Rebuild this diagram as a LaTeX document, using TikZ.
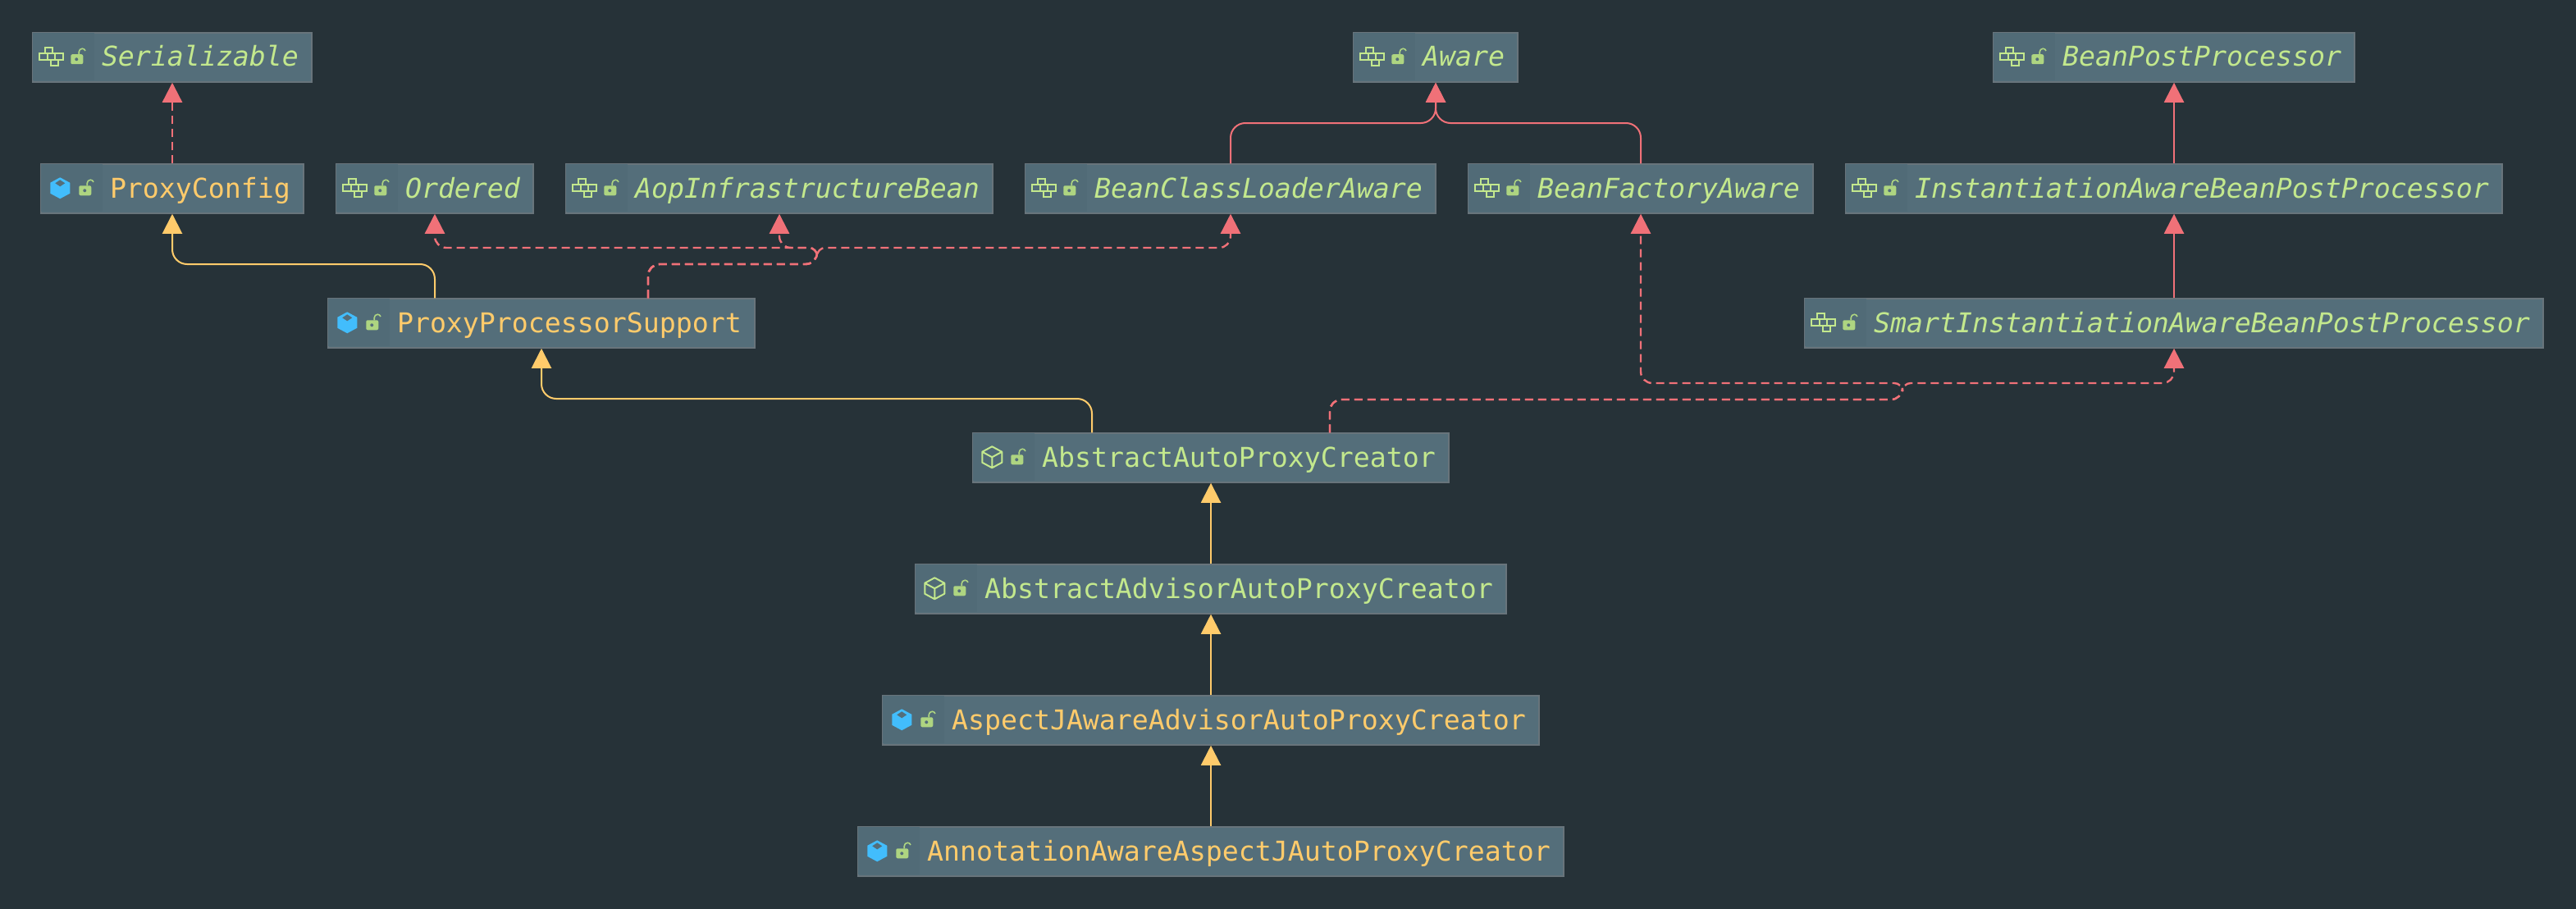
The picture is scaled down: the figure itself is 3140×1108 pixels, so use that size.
\documentclass[tikz,border=0pt]{standalone}
\usepackage{fontspec}
\setmonofont{DejaVu Sans Mono}
\usetikzlibrary{arrows.meta,calc}

\definecolor{bgdark}{HTML}{263238}
\definecolor{boxfill}{HTML}{546E7A}
\definecolor{boxedge}{HTML}{68747B}
\definecolor{boxpart}{HTML}{516B77}
\definecolor{classyellow}{HTML}{FFCB6B}
\definecolor{abstractgreen}{HTML}{C3E88D}
\definecolor{lockgreen}{HTML}{AED581}
\definecolor{cubeblue}{HTML}{42BDFC}
\definecolor{linkred}{HTML}{F07178}

\tikzset{
  classbox/.style={draw=boxedge, fill=boxfill, line width=1.5pt, minimum height=60pt,
    inner xsep=16pt, inner ysep=0pt, text height=22pt, text depth=0pt,
    execute at begin node={\hskip68pt},
    font=\fontsize{33.22}{40}\selectfont\ttfamily},
  concretebox/.style={classbox, text=classyellow},
  abstractbox/.style={classbox, text=abstractgreen},
  ifacebox/.style={classbox, text=abstractgreen, font=\fontsize{33.22}{40}\selectfont\ttfamily\itshape},
  linkbase/.style={line width=2pt, rounded corners=18pt, -{Triangle[length=24pt,width=24pt]}},
  extendline/.style={linkbase, draw=classyellow, fill=none},
  inheritline/.style={linkbase, draw=linkred},
  implline/.style={linkbase, line width=2.4pt, draw=linkred, dash pattern=on 10pt off 6pt},
  lockicon/.pic={
    \fill[boxpart] (1,1) rectangle (76,59);
    \fill[lockgreen, rounded corners=2pt] (47,27) rectangle (62,39);
    \fill[boxfill] (54,33) circle (2pt);
    \draw[lockgreen, line width=1.6pt] (57,27) -- (57,24) arc[start angle=180, end angle=20, radius=4pt];
  },
  ifaceicon/.pic={
    \pic {lockicon};
    \draw[abstractgreen, line width=2.4pt, line join=miter]
      (9,26) rectangle (38,34)
      (19,26) -- (19,34) (28,26) -- (28,34)
      (16,26) -- (16,19) -- (25,19) -- (25,26)
      (23,34) -- (23,41) -- (32,41) -- (32,34);
  },
  solidcube/.pic={
    \pic {lockicon};
    \fill[cubeblue] (24,17) -- (36,23.5) -- (36,36.5) -- (24,43) -- (12,36.5) -- (12,23.5) -- cycle;
    \fill[boxfill] (24,20) -- (30,24) -- (24,28) -- (18,24) -- cycle;
  },
  hollowcube/.pic={
    \pic {lockicon};
    \draw[abstractgreen, line width=2pt, line join=round]
      (24,17) -- (36,23.5) -- (36,36.5) -- (24,43) -- (12,36.5) -- (12,23.5) -- cycle
      (12,23.5) -- (24,30) -- (36,23.5) (24,30) -- (24,43);
  }
}

\begin{document}
\begin{tikzpicture}[x=1pt,y=-1pt]

\fill[bgdark] (0,0) rectangle (3140,1108);
\useasboundingbox (0,0) rectangle (3140,1108);

% top row
\node[ifacebox] (ser) at (210,70) {Serializable};
\node[ifacebox] (aware) at (1750,70) {Aware};
\node[ifacebox] (bpp) at (2650,70) {BeanPostProcessor};

% second row
\node[concretebox] (pc) at (210,230) {ProxyConfig};
\node[ifacebox] (ord) at (530,230) {Ordered};
\node[ifacebox] (aop) at (950,230) {AopInfrastructureBean};
\node[ifacebox] (bcl) at (1500,230) {BeanClassLoaderAware};
\node[ifacebox] (bf) at (2000,230) {BeanFactoryAware};
\node[ifacebox] (iabpp) at (2650,230) {InstantiationAwareBeanPostProcessor};

% third row
\node[concretebox] (pps) at (660,394) {ProxyProcessorSupport};
\node[ifacebox] (siabpp) at (2650,394) {SmartInstantiationAwareBeanPostProcessor};

% the chain in the middle
\node[abstractbox] (apc) at (1476,558) {AbstractAutoProxyCreator};
\node[abstractbox] (advisor) at (1476,718) {AbstractAdvisorAutoProxyCreator};
\node[concretebox] (aspectj) at (1476,878) {AspectJAwareAdvisorAutoProxyCreator};
\node[concretebox] (annot) at (1476,1038) {AnnotationAwareAspectJAutoProxyCreator};

% icons
\foreach \n in {ser,aware,bpp,ord,aop,bcl,bf,iabpp,siabpp}
  \pic at (\n.north west) {ifaceicon};
\foreach \n in {pc,pps,aspectj,annot}
  \pic at (\n.north west) {solidcube};
\foreach \n in {apc,advisor}
  \pic at (\n.north west) {hollowcube};

% bends
\coordinate (awarejoin) at (1750,150);
\coordinate (pcrail) at (400,322);
\coordinate (ppsbend) at (996,322);
\coordinate (ppsfork) at (996,302);
\coordinate (apcrail) at (1000,486);
\coordinate (apcbend) at (2319,487);
\coordinate (apcfork) at (2319,467);

% arrows
\draw[implline] (pc.north) -- (ser.south);
\draw[inheritline] (bcl.north) |- (awarejoin) -- (aware.south);
\draw[inheritline] (bf.north) |- (awarejoin) -- (aware.south);
\draw[inheritline] (iabpp.north) -- (bpp.south);
\draw[inheritline] (siabpp.north) -- (iabpp.south);

\draw[extendline] ($(pps.north)+(-130,0)$) |- (pcrail) -| (pc.south);
\draw[implline] ($(pps.north)+(130,0)$) [rounded corners=14pt] |- (ppsbend) [rounded corners=10pt] -- (ppsfork) [rounded corners=14pt] -| (ord.south);
\draw[implline] ($(pps.north)+(130,0)$) [rounded corners=14pt] |- (ppsbend) [rounded corners=10pt] -- (ppsfork) [rounded corners=14pt] -| (aop.south);
\draw[implline] ($(pps.north)+(130,0)$) [rounded corners=14pt] |- (ppsbend) [rounded corners=10pt] -- (ppsfork) [rounded corners=14pt] -| (bcl.south);

\draw[extendline] ($(apc.north)+(-145,0)$) |- (apcrail) -| (pps.south);
\draw[implline] ($(apc.north)+(145,0)$) [rounded corners=14pt] |- (apcbend) [rounded corners=10pt] -- (apcfork) [rounded corners=14pt] -| (bf.south);
\draw[implline] ($(apc.north)+(145,0)$) [rounded corners=14pt] |- (apcbend) [rounded corners=10pt] -- (apcfork) [rounded corners=14pt] -| (siabpp.south);

\draw[extendline] (advisor.north) -- (apc.south);
\draw[extendline] (aspectj.north) -- (advisor.south);
\draw[extendline] (annot.north) -- (aspectj.south);

\end{tikzpicture}
\end{document}
